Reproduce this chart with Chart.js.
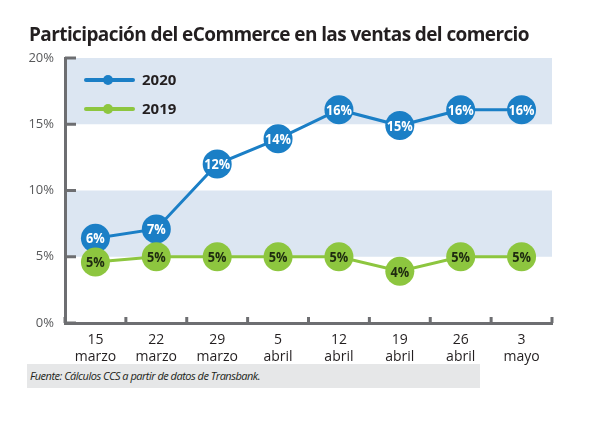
<!DOCTYPE html>
<html><head><meta charset="utf-8">
<script src="https://cdn.jsdelivr.net/npm/chart.js@4"></script>
<style>
html,body{margin:0;padding:0;background:#fff;}
#wrap{position:relative;width:600px;height:422px;}
#title{position:absolute;left:29px;top:21px;font-family:"Open Sans",sans-serif;font-weight:700;font-size:19px;color:#231f20;letter-spacing:-0.6px;white-space:nowrap;}
#src{position:absolute;left:27px;top:364px;width:453px;height:24px;background:#e6e7e8;font-family:"Open Sans",sans-serif;font-style:italic;font-size:11px;color:#231f20;line-height:24px;padding-left:3px;box-sizing:border-box;letter-spacing:-0.5px;}
canvas{position:absolute;left:0;top:0;}
</style></head>
<body><div id="wrap">
<canvas id="c" width="600" height="422"></canvas>
<div id="title">Participación del eCommerce en las ventas del comercio</div>
<div id="src">Fuente: Cálculos CCS a partir de datos de Transbank.</div>
</div>
<script>
const categories = [["15","marzo"],["22","marzo"],["29","marzo"],["5","abril"],["12","abril"],["19","abril"],["26","abril"],["3","mayo"]];
const values2020 = [6.4, 7.1, 12.0, 13.9, 16.1, 14.9, 16.1, 16.1];
const values2019 = [4.6, 5.0, 5.0, 5.0, 5.0, 3.9, 5.0, 5.0];
const yTicks = [0, 5, 10, 15, 20];
const bands = [[5, 10], [15, 20]];
const seriesNames = ["2020", "2019"];

const BLUE = "#1b7fc6", GREEN = "#8dc63f", AXIS = "#6d6e71";

const deco = {
  id: "deco",
  beforeDraw(chart) {
    const {ctx, chartArea: a, scales: {y}} = chart;
    ctx.save();
    ctx.fillStyle = "#dce6f2";
    bands.forEach(([lo, hi]) => {
      const t = y.getPixelForValue(hi), b = y.getPixelForValue(lo);
      ctx.fillRect(a.left, t, a.right - a.left, b - t);
    });
    ctx.restore();
  },
  afterDraw(chart) {
    const {ctx, chartArea: a, scales: {x, y}} = chart;
    ctx.save();
    ctx.strokeStyle = AXIS;
    ctx.lineWidth = 3;
    yTicks.forEach(v => {
      const py = y.getPixelForValue(v);
      ctx.beginPath(); ctx.moveTo(a.left, py); ctx.lineTo(a.left + 11, py); ctx.stroke();
    });
    const n = categories.length;
    const step = x.getPixelForValue(1) - x.getPixelForValue(0);
    for (let i = 0; i <= n; i++) {
      const px = i < n ? x.getPixelForValue(i) - step / 2 : a.right;
      ctx.beginPath(); ctx.moveTo(px, a.bottom); ctx.lineTo(px, a.bottom - 6); ctx.stroke();
    }
    const items = [[seriesNames[0], BLUE, 80], [seriesNames[1], GREEN, 109]];
    items.forEach(([name, col, ly]) => {
      ctx.strokeStyle = col; ctx.lineWidth = 4; ctx.lineCap = "round";
      ctx.beginPath(); ctx.moveTo(86, ly); ctx.lineTo(133, ly); ctx.stroke();
      ctx.fillStyle = col;
      ctx.beginPath(); ctx.arc(108, ly, 5, 0, Math.PI * 2); ctx.fill();
      ctx.fillStyle = "#231f20";
      ctx.font = "bold 15px 'Open Sans', sans-serif";
      ctx.textBaseline = "middle"; ctx.textAlign = "left";
      ctx.fillText(name, 142, ly + 1);
    });
    ctx.font = "bold 15px 'Open Sans', sans-serif";
    ctx.textAlign = "center"; ctx.textBaseline = "middle";
    chart.data.datasets.forEach((ds, di) => {
      const meta = chart.getDatasetMeta(di);
      meta.data.forEach((pt, i) => {
        ctx.fillStyle = di === 0 ? "#ffffff" : "#1e2a10";
        const txt = Math.round(ds.data[i]) + "%";
        ctx.save();
        ctx.translate(pt.x, pt.y + 1);
        ctx.scale(0.85, 1);
        ctx.fillText(txt, 0, 0);
        ctx.restore();
      });
    });
    ctx.restore();
  }
};

new Chart(document.getElementById("c"), {
  type: "line",
  data: {
    labels: categories,
    datasets: [
      {label: seriesNames[0], data: values2020, borderColor: BLUE, backgroundColor: BLUE, borderWidth: 3,
       pointRadius: 14.5, pointBackgroundColor: BLUE, pointBorderWidth: 0, tension: 0, order: 2},
      {label: seriesNames[1], data: values2019, borderColor: GREEN, backgroundColor: GREEN, borderWidth: 3,
       pointRadius: 14.5, pointBackgroundColor: GREEN, pointBorderWidth: 0, tension: 0, order: 1}
    ]
  },
  options: {
    responsive: false, animation: false,
    layout: {padding: {left: 0, right: 48, top: 58, bottom: 48}},
    plugins: {legend: {display: false}, tooltip: {enabled: false}},
    scales: {
      x: {
        offset: true,
        grid: {display: false, offset: true},
        border: {color: AXIS, width: 3},
        ticks: {color: "#231f20", font: {family: "'Open Sans', sans-serif", size: 14}, padding: 1, maxRotation: 0, autoSkip: false, lineHeight: 1.15},
        afterFit(s) { s.height = 51; }
      },
      y: {
        min: 0, max: 20,
        afterBuildTicks(s) { s.ticks = yTicks.map(v => ({value: v})); },
        grid: {display: false},
        border: {color: AXIS, width: 3},
        ticks: {color: "#58595b", font: {family: "'Open Sans', sans-serif", size: 13}, padding: 3, callback: v => v + "%"},
        afterFit(s) { s.width = 65; }
      }
    }
  },
  plugins: [deco]
});
</script>
</body></html>
